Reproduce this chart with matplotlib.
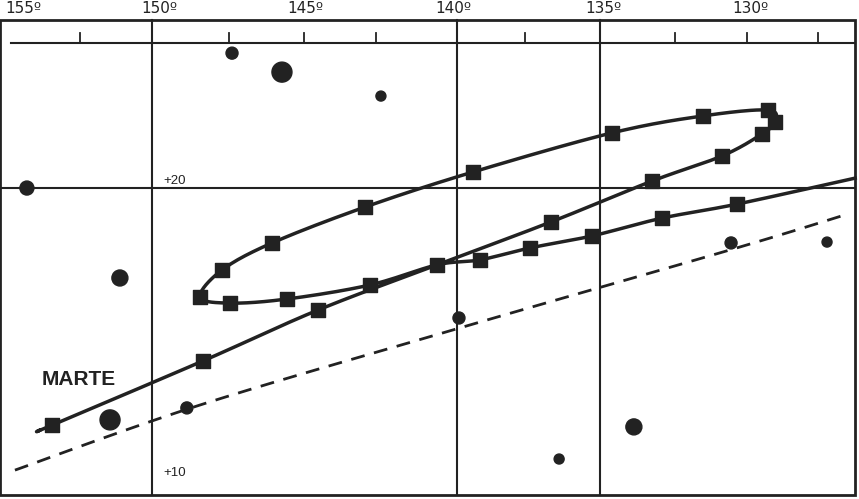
import numpy as np
import matplotlib
matplotlib.use("Agg")
import matplotlib.pyplot as plt
from matplotlib.patches import Rectangle

# Mars path (RA deg, Dec deg) in time order
mars_ra = [153.73, 153.33, 148.28, 144.44, 140.45, 136.64, 133.26, 130.92, 129.59, 129.15, 129.38,
           131.56, 134.60, 139.25, 142.86, 145.97, 147.65, 148.38, 147.38, 145.47, 142.70, 140.45,
           139.02, 137.34, 135.27, 132.93, 130.42, 126.47]
mars_dec = [11.71, 11.88, 14.08, 15.82, 17.37, 18.84, 20.24, 21.10, 21.85, 22.26, 22.67,
            22.47, 21.89, 20.55, 19.35, 18.12, 17.19, 16.27, 16.06, 16.20, 16.68, 17.37,
            17.54, 17.95, 18.36, 18.97, 19.45, 20.34]
mars_marked = [0, 1, 1, 1, 1, 1, 1, 1, 1, 1, 1,
               1, 1, 1, 1, 1, 1, 1, 1, 1, 1, 0,
               1, 1, 1, 1, 1, 0]

ecl_ra = [154.57, 148.38, 139.69, 130.66, 126.81]
ecl_dec = [10.34, 12.57, 15.21, 17.88, 19.08]

star_ra = [147.31, 145.64, 142.33, 154.17, 151.06, 151.39, 148.82, 139.72, 130.62, 127.41, 136.37, 133.87]
star_dec = [24.62, 23.97, 23.15, 20.0, 16.92, 12.06, 12.47, 15.55, 18.12, 18.15, 10.72, 11.82]
star_r = [6, 10, 5, 7, 8, 10, 6, 6, 6, 5, 5, 8]

ra_labels = [155, 150, 145, 140, 135, 130]
ra_label_pos = [154.3, 149.75, 144.87, 139.92, 134.9, 129.98]
ra_ticks = [152.4, 147.4, 144.9, 142.5, 137.5, 132.5, 130.1, 127.7]
ra_grid = [150, 139.8, 135]
dec_grid = [20]
dec_labels = [20, 10]

def catmull(xs, ys, n=20):
    P = np.column_stack([xs, ys])
    P = np.vstack([P[0], P, P[-1]])
    out = []
    for i in range(1, len(P) - 2):
        p0, p1, p2, p3 = P[i-1], P[i], P[i+1], P[i+2]
        t = np.linspace(0, 1, n, endpoint=False)[:, None]
        out.append(0.5 * ((2*p1) + (-p0+p2)*t + (2*p0-5*p1+4*p2-p3)*t**2 + (-p0+3*p1-3*p2+p3)*t**3))
    out.append(P[-2][None, :])
    return np.vstack(out)

fig = plt.figure(figsize=(8.59, 4.99), dpi=100)
ax = fig.add_axes([0, 0, 1, 1])
ax.set_xlim(155.07, 155.07 - 859/29.9)
ax.set_ylim(26.44 - 499/29.2, 26.44)
ax.axis('off')

xl, xr = 155.07, 155.07 - 855/29.9
yt, yb = 26.44 - 20/29.2, 26.44 - 495/29.2
ax.add_patch(Rectangle((xl, yb), xr - xl, yt - yb, fill=False, lw=2, ec='#222222'))
yb0 = 26.44 - 43/29.2
ax.plot([155.07 - 11/29.9, xr], [yb0, yb0], color='#222222', lw=1.5)
for t in ra_ticks:
    ax.plot([t, t], [yb0, 26.44 - 33/29.2], color='#222222', lw=1.3)
for g in ra_grid:
    ax.plot([g, g], [yb, yt], color='#222222', lw=1.5)
for d in dec_grid:
    ax.plot([xl, xr], [d, d], color='#222222', lw=1.5)
for r, p in zip(ra_labels, ra_label_pos):
    ax.text(p, 26.44 - 9/29.2, f"{r}º", ha='center', va='center', fontsize=11,
            family='Liberation Sans Narrow', color='#222222')
for d in dec_labels:
    ax.text(150 - 0.4, d + 0.25, f"+{d}", ha='left', va='center', fontsize=9.5,
            family='Liberation Sans', color='#222222')

c = catmull(ecl_ra, ecl_dec)
ax.plot(c[:, 0], c[:, 1], color='#222222', lw=2, ls=(0, (5, 3.5)))

c = catmull(mars_ra, mars_dec)
ax.plot(c[:, 0], c[:, 1], color='#222222', lw=2.5)
mr = [r for r, m in zip(mars_ra, mars_marked) if m]
md = [d for d, m in zip(mars_dec, mars_marked) if m]
ax.scatter(mr, md, marker='s', s=100, color='#222222', zorder=5)

ax.scatter(star_ra, star_dec, s=[(2*r*0.72)**2 for r in star_r], color='#222222', zorder=5)

ax.text(155.07 - 42/29.9, 26.44 - 380/29.2, "MARTE", fontsize=15, fontweight='bold',
        family='Liberation Sans', color='#222222', ha='left', va='center')

fig.savefig("out.png", dpi=100)
